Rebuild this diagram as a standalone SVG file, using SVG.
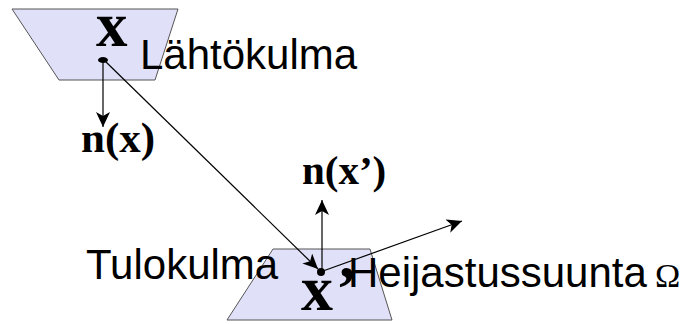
<svg xmlns="http://www.w3.org/2000/svg" width="694" height="324" viewBox="0 0 694 324">
<style>
.surf{fill:#e0e0f8;stroke:#555;stroke-width:1}
.line{stroke:#000;stroke-width:1.2;fill:none;marker-end:url(#ah)}
.lbl{font-family:"Liberation Sans",Arial,sans-serif;font-size:42px;fill:#000}
.math{font-family:"Liberation Serif","Times New Roman",serif;font-weight:bold;fill:#000}
.omega{font-family:"Liberation Serif","Times New Roman",serif;font-size:34px;fill:#000}
</style>
<defs>
<marker id="ah" markerUnits="userSpaceOnUse" markerWidth="16" markerHeight="14" refX="15" refY="7" orient="auto">
<path d="M0,0 L15,7 L0,14 L4,7 Z" fill="#000"/>
</marker>
</defs>
<g id="surface-top">
<polygon class="surf" points="12,9 178,9 155,80 59,80"/>
</g>
<g id="surface-bottom">
<polygon class="surf" points="273,249 370,249 392,320 227,320"/>
</g>
<g id="point-x">
<ellipse cx="103" cy="60" rx="5" ry="3" fill="#000"/>
<text class="math" x="96" y="46" font-size="63">x</text>
</g>
<g id="label-lahtokulma">
<text class="lbl" x="140" y="69">Lähtökulma</text>
</g>
<g id="label-nx">
<text class="math" x="81" y="152" font-size="43">n(x)</text>
</g>
<g id="label-nx2">
<text class="math" x="302" y="184" font-size="41">n(x’)</text>
</g>
<g id="label-tulokulma">
<text class="lbl" x="86" y="279">Tulokulma</text>
</g>
<g id="point-x2">
<circle cx="321" cy="272" r="4" fill="#000"/>
<text class="math" x="301" y="310" font-size="64">x</text>
<text class="math" x="336" y="310" font-size="64">’</text>
</g>
<g id="label-heijastus">
<text class="lbl" x="348" y="287" font-size="41">Heijastussuunta</text>
<text class="omega" x="655" y="287">Ω</text>
</g>
<g id="connectors">
<line class="line" x1="103" y1="62" x2="103" y2="127"/>
<line class="line" x1="105" y1="61" x2="318" y2="269"/>
<line class="line" x1="322" y1="270" x2="322" y2="200"/>
<line class="line" x1="323" y1="271" x2="462" y2="221"/>
</g>
</svg>
